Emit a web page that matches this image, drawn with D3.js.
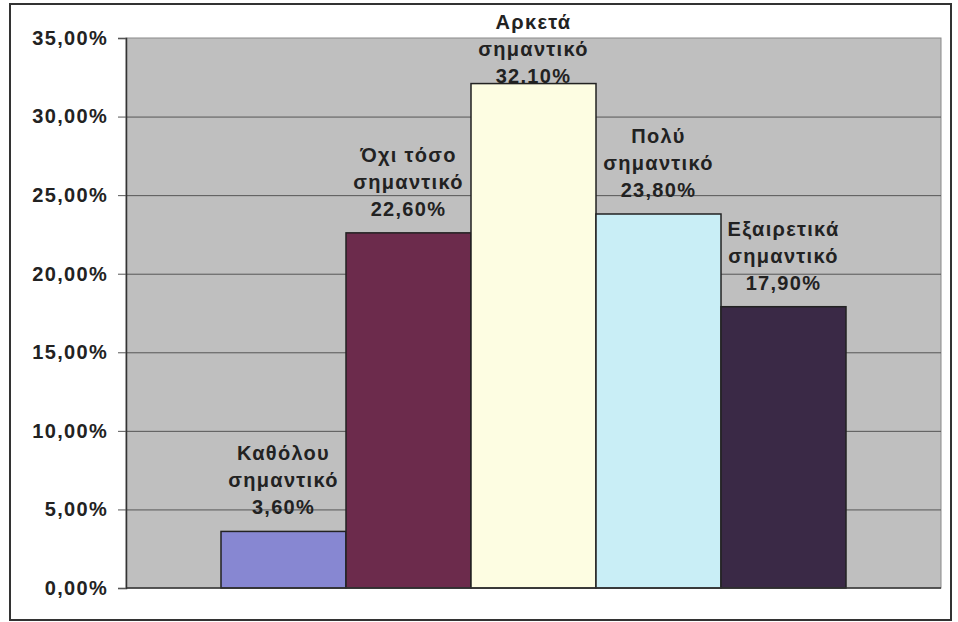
<!DOCTYPE html>
<html>
<head>
<meta charset="utf-8">
<script src="https://cdn.jsdelivr.net/npm/d3@7"></script>
<style>
  body { margin: 0; background: #fff; }
  text { font-family: "Liberation Sans", Arial, sans-serif; font-weight: bold; fill: #222; }
</style>
</head>
<body>
<div id="vis-holder"></div>
<script>
// Data
const categories = ["Καθόλου σημαντικό", "Όχι τόσο σημαντικό", "Αρκετά σημαντικό", "Πολύ σημαντικό", "Εξαιρετικά σημαντικό"];
const labelLines = [["Καθόλου", "σημαντικό"], ["Όχι τόσο", "σημαντικό"], ["Αρκετά", "σημαντικό"], ["Πολύ", "σημαντικό"], ["Εξαιρετικά", "σημαντικό"]];
const values = [3.6, 22.6, 32.1, 23.8, 17.9];
const yTicks = [0, 5, 10, 15, 20, 25, 30, 35];
const barColors = ["#8787d2", "#6c2b4c", "#fdfde2", "#c9eef6", "#3a2946"];

const width = 958;
const height = 622;
const margin = { top: 38, right: 17, bottom: 34, left: 126 };

const svg = d3.select("#vis-holder")
    .append("svg")
    .attr("width", width)
    .attr("height", height);

// outer frame
svg.append("rect")
    .attr("x", 10).attr("y", 4)
    .attr("width", 941).attr("height", 616)
    .attr("fill", "none")
    .attr("stroke", "#333")
    .attr("stroke-width", 2);

// Scales
const x = d3.scaleBand()
    .domain(categories)
    .range([margin.left, width - margin.right])
    .paddingInner(0)
    .paddingOuter(0.76);

const y = d3.scaleLinear()
    .domain([0, 35])
    .range([height - margin.bottom, margin.top]);

// plot background
svg.append("rect")
    .attr("x", margin.left)
    .attr("y", margin.top)
    .attr("width", width - margin.right - margin.left)
    .attr("height", y(0) - margin.top)
    .attr("fill", "#bfbfbf")
    .attr("stroke", "#8a8a8a")
    .attr("stroke-width", 1);

// gridlines
svg.append("g")
    .selectAll("line")
    .data(yTicks.filter(d => d > 0 && d < 35))
    .enter()
    .append("line")
    .attr("x1", margin.left)
    .attr("x2", width - margin.right)
    .attr("y1", d => y(d) + 0.5)
    .attr("y2", d => y(d) + 0.5)
    .attr("stroke", "#555")
    .attr("stroke-width", 1);

// y axis
const yAxis = svg.append("g")
    .attr("transform", `translate(${margin.left}, 0)`)
    .call(d3.axisLeft(y)
        .tickValues(yTicks)
        .tickSize(8)
        .tickPadding(10)
        .tickFormat(d => d3.format(".2f")(d).replace(".", ",") + "%"));
yAxis.select(".domain").attr("stroke", "#333").attr("stroke-width", 1.5);
yAxis.selectAll(".tick line").attr("stroke", "#555");
yAxis.selectAll("text")
    .attr("font-size", "20px")
    .attr("letter-spacing", "1.3px")
    .attr("fill", "#222");
yAxis.attr("font-family", null);

// data labels (drawn under the bars, so a squeezed label is cut by its bar top)
const labels = svg.selectAll(".lbl")
    .data(values)
    .enter()
    .append("text")
    .attr("class", "lbl")
    .attr("text-anchor", "middle")
    .attr("font-size", "20px")
    .attr("letter-spacing", "1.3px");

labels.each(function(d, i) {
    const cx = x(categories[i]) + x.bandwidth() / 2;
    const lines = labelLines[i].concat([d3.format(".2f")(d).replace(".", ",") + "%"]);
    // keep the first line inside the chart frame
    let first = y(d) - 17 - (lines.length - 1) * 27;
    first = Math.max(first, 29);
    lines.forEach((t, k) => {
        d3.select(this).append("tspan")
            .attr("x", cx)
            .attr("y", first + k * 27)
            .text(t);
    });
});

// bars
svg.selectAll(".bar")
    .data(values)
    .enter()
    .append("rect")
    .attr("class", "bar")
    .attr("x", (d, i) => x(categories[i]))
    .attr("y", d => y(d))
    .attr("width", x.bandwidth())
    .attr("height", d => y(0) - y(d))
    .attr("fill", (d, i) => barColors[i])
    .attr("stroke", "#222")
    .attr("stroke-width", 1.5);

// x axis line
svg.append("line")
    .attr("x1", margin.left)
    .attr("x2", width - margin.right)
    .attr("y1", y(0))
    .attr("y2", y(0))
    .attr("stroke", "#333")
    .attr("stroke-width", 1.5);
</script>
</body>
</html>
